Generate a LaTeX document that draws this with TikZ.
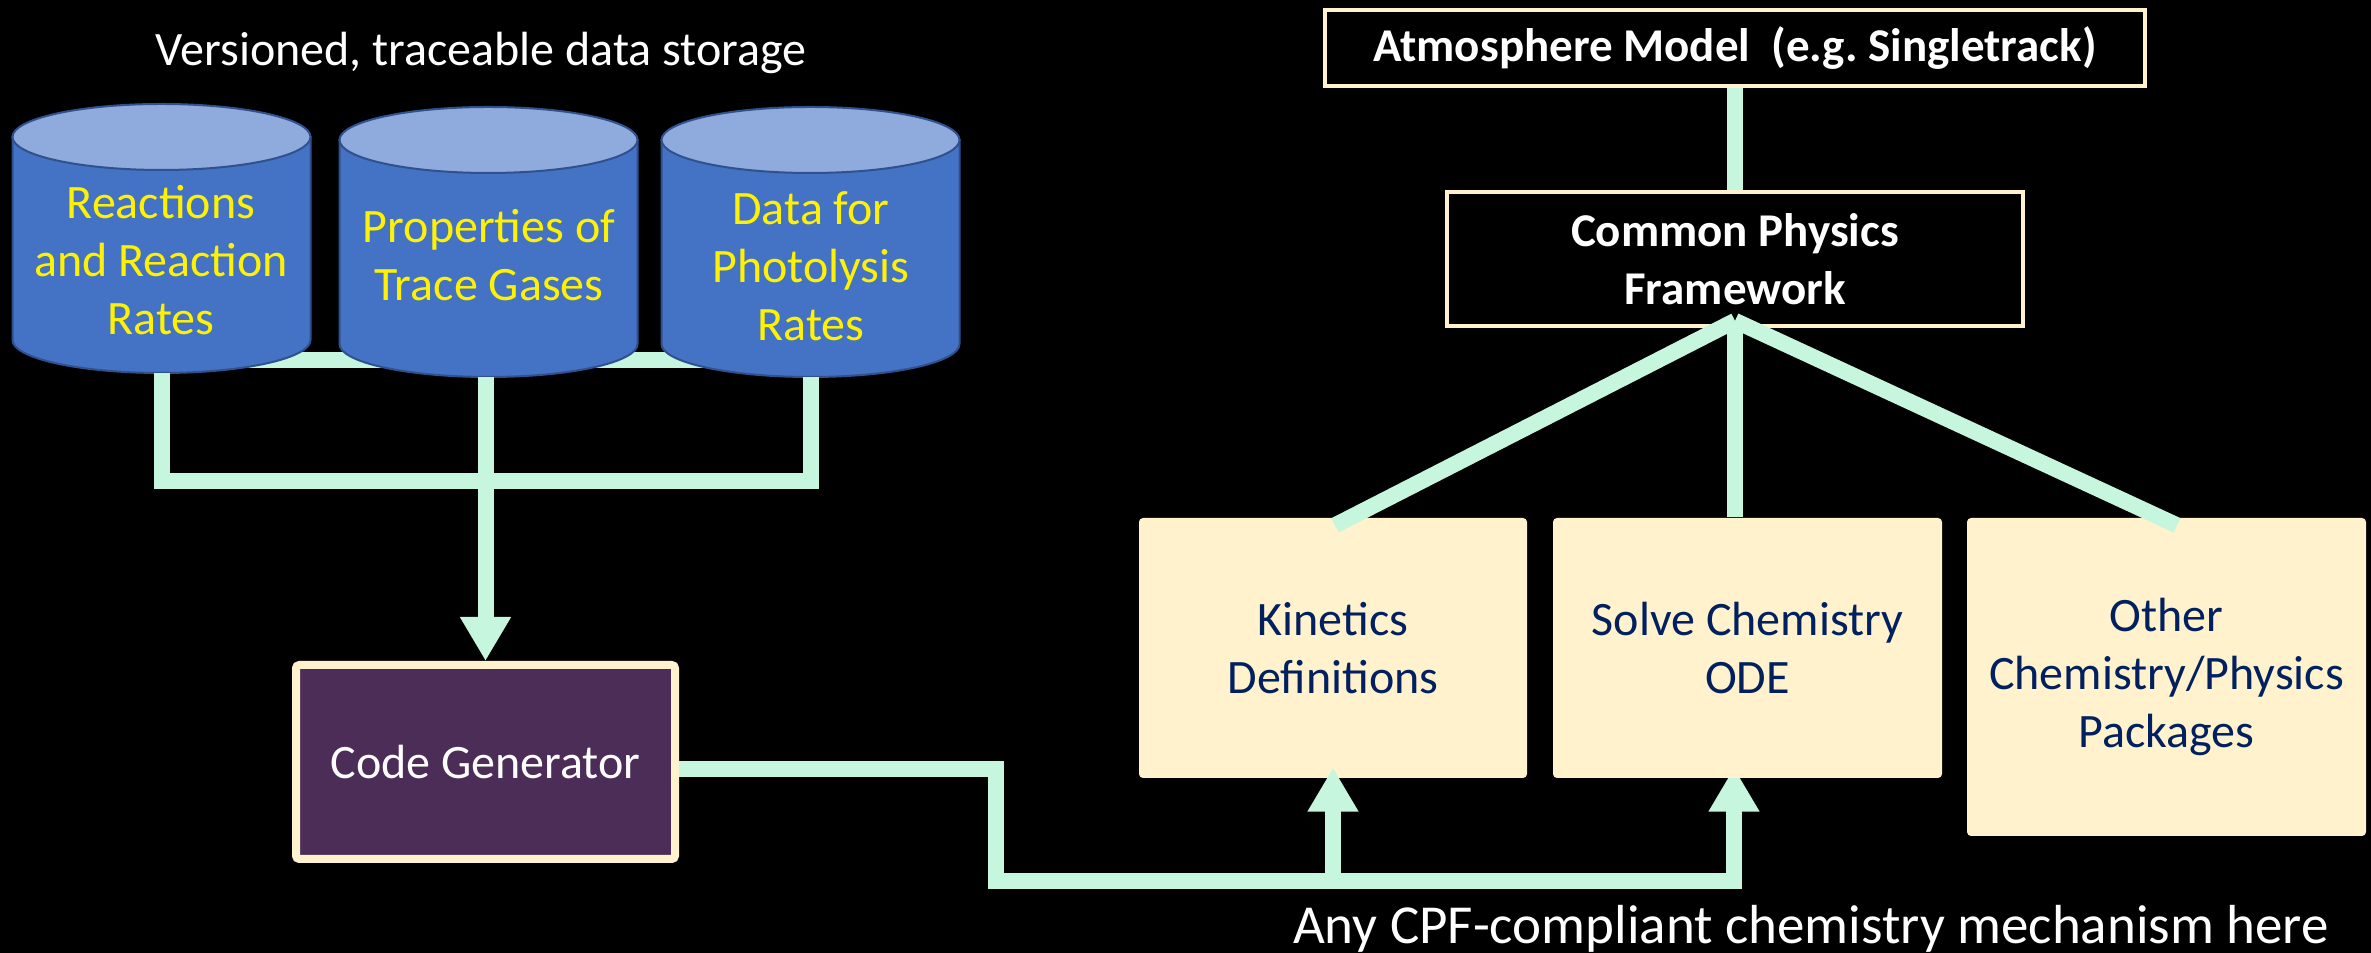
\documentclass[tikz,border=0pt]{standalone}
\usepackage{fontspec}
\setmainfont{Carlito}
\usetikzlibrary{arrows.meta}
\definecolor{mint}{HTML}{C6F6DE}
\definecolor{cream}{HTML}{FFF2CC}
\definecolor{navy}{HTML}{002060}
\definecolor{cylblue}{HTML}{4472C4}
\definecolor{cyllight}{HTML}{8FAADC}
\definecolor{cyledge}{HTML}{2F528F}
\definecolor{plum}{HTML}{4B2D58}
\pgfdeclarelayer{bg}
\pgfdeclarelayer{back}
\pgfsetlayers{bg,back,main}
\frenchspacing

% data store drawn as a cylinder: name, centre x, top-ellipse y, bottom-ellipse y
\newcommand\datastore[4]{%
  \filldraw[cylbody] (#2-149,#3) -- (#2-149,#4)
    arc[start angle=180,end angle=0,x radius=149,y radius=33]
    -- (#2+149,#3) -- cycle;
  \filldraw[cyltop] (#2,#3) ellipse[x radius=149,y radius=33];
  \coordinate (#1-base) at (#2,#4+33);
}

\begin{document}
\begin{tikzpicture}[x=0.3pt,y=-0.3pt,
  txt/.style={font=\fontsize{14.4}{17.4}\selectfont, align=center, inner sep=0pt},
  conn/.style={draw=mint, line width=4.8pt},
  tip/.style={-{Triangle[width=14.4pt,length=13.2pt]}},
  darkbox/.style={txt, draw=cream, line width=1.1pt, fill=black, text=white,
    font=\fontsize{14.1}{17.4}\selectfont\bfseries},
  pkg/.style={txt, fill=cream, rounded corners=1.2pt, text=navy},
  cylbody/.style={fill=cylblue, draw=cyledge, line width=0.6pt},
  cyltop/.style={fill=cyllight, draw=cyledge, line width=0.6pt},
  cyltext/.style={txt, text=yellow}]

\useasboundingbox (0,0) rectangle (2371,953);
\begin{pgfonlayer}{bg}
  \fill[black] (0,0) rectangle (2371,953);
\end{pgfonlayer}

% ---- data storage ----
\node[txt, text=white] (vlabel) at (481,53) {Versioned, traceable data storage};

\datastore{cy1}{161.5}{137}{340}
\datastore{cy2}{488.5}{140}{344}
\datastore{cy3}{810.5}{140}{344}

\node[cyltext] (st1) at (161,260) {Reactions\\and Reaction\\Rates};
\node[cyltext] (st2) at (489,255) {Properties of\\Trace Gases};
\node[cyltext] (st3) at (811,266) {Data for\\Photolysis\\Rates};

\coordinate (rail) at (0,360);
\coordinate (bar) at (486,481);
\begin{pgfonlayer}{back}
  \draw[conn] (cy1-base |- rail) -- (cy3-base |- rail);
\end{pgfonlayer}

% ---- code generator ----
\node[txt, draw=cream, line width=2.4pt, fill=plum, text=white, rounded corners=1pt,
      minimum width=113.7pt, minimum height=58.2pt] (cg) at (485.5,762) {Code Generator};

\draw[conn] (cy1-base) |- (bar) -| (cy3-base);
\draw[conn,tip] (cg.north |- cy2-base) -- (cg.north);

% ---- model side ----
\node[darkbox, minimum width=246pt, minimum height=22.8pt] (atm) at (1735,48)
  {Atmosphere Model \ (e.g. Singletrack)};
\node[darkbox, minimum width=172.8pt, minimum height=40.2pt] (cpf) at (1735,259)
  {Common Physics\\Framework};

\node[pkg, minimum width=116.4pt, minimum height=78pt] (k) at (1333,648)
  {Kinetics\\Definitions};
\node[pkg, minimum width=116.7pt, minimum height=78pt] (s) at (1747.5,648)
  {Solve Chemistry\\ODE};
\node[pkg, minimum width=119.7pt, minimum height=95.4pt] (o) at (2166.5,677)
  {Other\\Chemistry/Physics\\Packages};

\draw[conn] (atm.south) -- (cpf.north);
\draw[conn] (cpf.south) -- (cpf.south |- s.north);
\draw[conn] ([yshift=2.1pt]cpf.south) -- ([xshift=0.6pt,yshift=-2.4pt]k.north);
\draw[conn] ([yshift=2.1pt]cpf.south) -- ([xshift=3.15pt,yshift=-2.4pt]o.north);

% ---- mechanism feed ----
\coordinate (j1) at (996,881);
\begin{pgfonlayer}{back}
  \draw[conn,tip] ([yshift=-2.1pt]cg.east) -| (j1) -| ([xshift=-4.05pt,yshift=3.3pt]s.south);
\end{pgfonlayer}
\draw[conn,tip] (k.south |- j1) -- ([yshift=3.3pt]k.south);

\node[txt, text=white, font=\fontsize{16.5}{20}\selectfont] (anylabel) at (1811,929)
  {Any CPF-compliant chemistry mechanism here};
\end{tikzpicture}
\end{document}
